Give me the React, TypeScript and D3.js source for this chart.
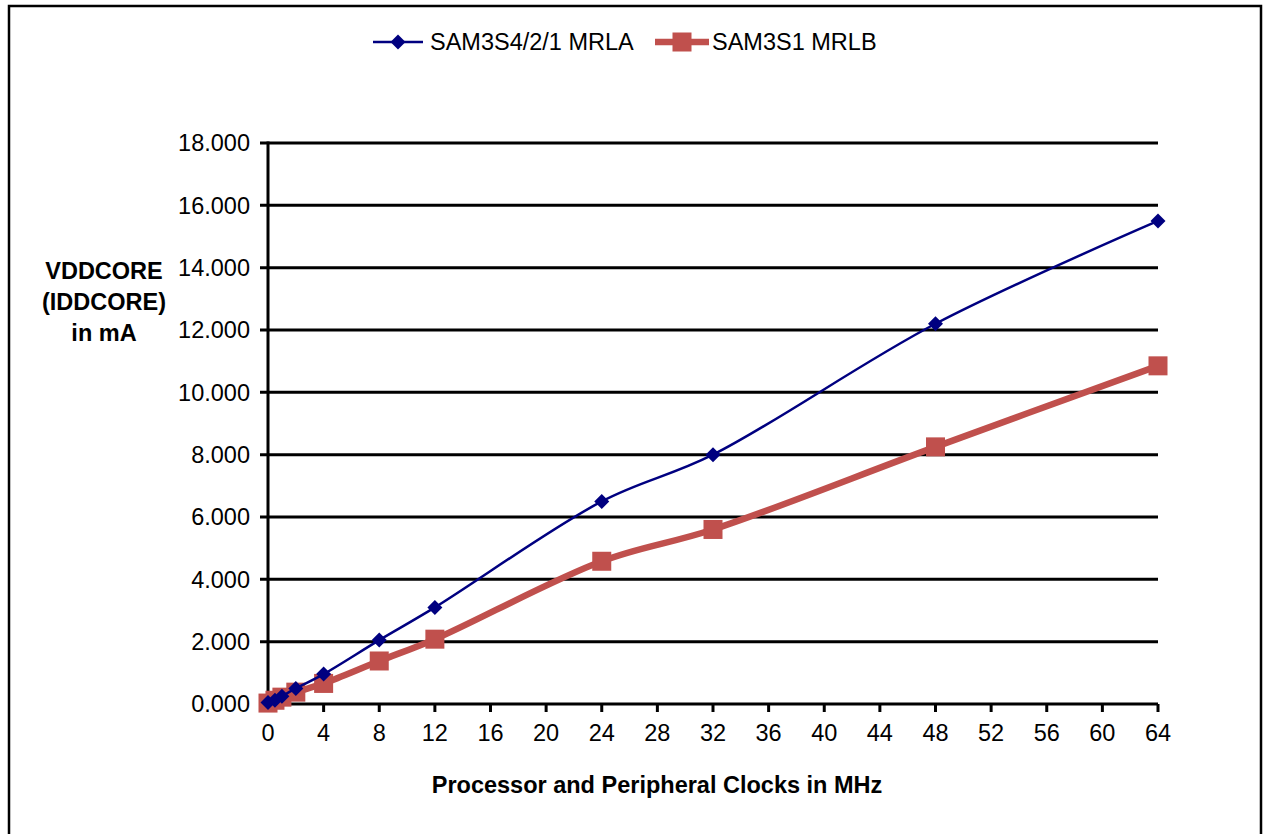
import React from "react";
import * as d3 from "d3";

const clocks = [0, 0.5, 1, 2, 4, 8, 12, 24, 32, 48, 64];
const mrla = [0.05, 0.12, 0.25, 0.5, 0.96, 2.05, 3.1, 6.5, 8.0, 12.2, 15.5];
const mrlb = [0.03, 0.12, 0.22, 0.38, 0.66, 1.38, 2.08, 4.58, 5.6, 8.25, 10.85];
const xTicks = [0, 4, 8, 12, 16, 20, 24, 28, 32, 36, 40, 44, 48, 52, 56, 60, 64];
const yTicks = [0, 2, 4, 6, 8, 10, 12, 14, 16, 18];
const seriesNames = ["SAM3S4/2/1 MRLA", "SAM3S1 MRLB"];
const yTitle = ["VDDCORE", "(IDDCORE)", "in mA"];
const xTitle = "Processor and Peripheral Clocks in MHz";

const W = 1267;
const H = 834;
const BLUE = "#000080";
const RED = "#C0504D";
const FONT = "'Liberation Sans', Arial, sans-serif";
const FS = 23.5;

export default function App() {
  const x = d3.scaleLinear().domain([0, 64]).range([268, 1158]);
  const y = d3.scaleLinear().domain([0, 18]).range([704, 143]);
  const line = d3
    .line<[number, number]>()
    .x((d) => x(d[0]))
    .y((d) => y(d[1]))
    .curve(d3.curveCatmullRom.alpha(0.5));
  const a: [number, number][] = clocks.map((c, i) => [c, mrla[i]]);
  const b: [number, number][] = clocks.map((c, i) => [c, mrlb[i]]);
  const diamond = (cx: number, cy: number, r: number) =>
    `M${cx},${cy - r}L${cx + r},${cy}L${cx},${cy + r}L${cx - r},${cy}Z`;

  return (
    <svg
      width={W}
      height={H}
      style={{ position: "absolute", left: 0, top: 0, background: "#fff" }}
      fontFamily={FONT}
    >
      <rect x={0} y={0} width={W} height={H} fill="#fff" />
      {/* frame */}
      <path d={`M9,${H}V6H1261V${H}`} fill="none" stroke="#000" strokeWidth={2.5} />

      {/* gridlines */}
      {yTicks.slice(1).map((t) => (
        <line key={"g" + t} x1={260} x2={1158} y1={y(t)} y2={y(t)} stroke="#000" strokeWidth={3} />
      ))}
      {/* x axis */}
      <line x1={260} x2={1158} y1={y(0)} y2={y(0)} stroke="#000" strokeWidth={3} />
      {/* y axis */}
      <line x1={268} x2={268} y1={y(18) - 1.5} y2={y(0)} stroke="#000" strokeWidth={3} />
      {xTicks.map((t) => (
        <line key={"xt" + t} x1={x(t)} x2={x(t)} y1={y(0)} y2={y(0) + 8} stroke="#000" strokeWidth={3} />
      ))}
      {yTicks.map((t) => (
        <text key={"yl" + t} x={250} y={y(t)} dy="0.36em" textAnchor="end" fontSize={FS} fill="#000">
          {d3.format(".3f")(t)}
        </text>
      ))}
      {xTicks.map((t) => (
        <text key={"xl" + t} x={x(t)} y={741} textAnchor="middle" fontSize={FS} fill="#000">
          {t}
        </text>
      ))}

      {/* axis titles */}
      {yTitle.map((s, i) => (
        <text key={"yt" + i} x={104} y={279 + i * 31} textAnchor="middle" fontSize={FS} fontWeight="bold" fill="#000">
          {s}
        </text>
      ))}
      <text x={657} y={793} textAnchor="middle" fontSize={FS} fontWeight="bold" fill="#000">
        {xTitle}
      </text>

      {/* series B (red) */}
      <path d={line(b) || ""} fill="none" stroke={RED} strokeWidth={6.5} strokeLinejoin="round" />
      {b.map((d, i) => (
        <rect key={"b" + i} x={x(d[0]) - 9.5} y={y(d[1]) - 9.5} width={19} height={19} fill={RED} />
      ))}

      {/* series A (blue) */}
      <path d={line(a) || ""} fill="none" stroke={BLUE} strokeWidth={2.5} strokeLinejoin="round" />
      {a.map((d, i) => (
        <path key={"a" + i} d={diamond(x(d[0]), y(d[1]), 7.5)} fill={BLUE} />
      ))}

      {/* legend */}
      <line x1={373} x2={423} y1={42} y2={42} stroke={BLUE} strokeWidth={2.5} />
      <path d={diamond(398, 42, 7.5)} fill={BLUE} />
      <text x={430} y={42} dy="0.36em" fontSize={FS} fill="#000">
        {seriesNames[0]}
      </text>
      <line x1={655} x2={709} y1={42} y2={42} stroke={RED} strokeWidth={6.5} />
      <rect x={672.5} y={32.5} width={19} height={19} fill={RED} />
      <text x={712} y={42} dy="0.36em" fontSize={FS} fill="#000">
        {seriesNames[1]}
      </text>
    </svg>
  );
}
